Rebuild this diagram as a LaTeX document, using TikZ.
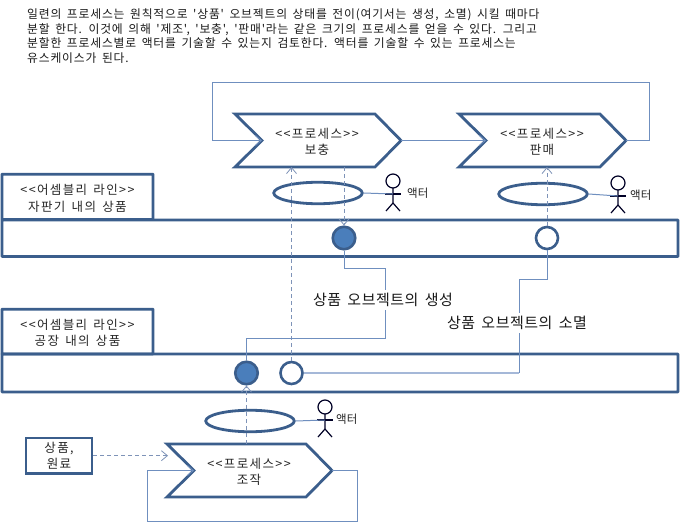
\documentclass[tikz,border=0pt]{standalone}
\usepackage{fontspec}
\setmainfont{Noto Sans CJK KR}
\newfontfamily\introfont[LetterSpace=7,WordSpace=1.6]{Noto Sans CJK KR}
\newfontfamily\labelfont[LetterSpace=11,WordSpace=1.5]{Noto Sans CJK KR}
\newfontfamily\capfont[LetterSpace=3.5,WordSpace=1.6]{Noto Sans CJK KR}
\usetikzlibrary{arrows.meta,shapes.geometric,calc}
\definecolor{heavy}{HTML}{3B5E8C}
\definecolor{thin}{HTML}{6F8FBF}
\definecolor{pale}{HTML}{A5B8D8}
\definecolor{dash}{HTML}{7E93B8}
\definecolor{solidblue}{HTML}{4A7EBB}
\tikzset{
  x=1pt,y=-1pt,
  labeltext/.style={font=\labelfont\fontsize{12.5}{16.3}\selectfont,align=center,text=black!85,inner sep=0pt},
  outline/.style={draw=heavy,line width=2.8pt,line join=miter},
  bandbox/.style={draw=heavy,line width=2.8pt,rectangle,anchor=north west,inner sep=0pt,rounded corners=0.5pt},
  usecase/.style={draw=heavy,line width=2.8pt,ellipse,inner sep=0pt,minimum width=88.5pt,minimum height=21.5pt},
  createdot/.style={circle,draw=heavy,line width=2.6pt,fill=solidblue,inner sep=0pt,minimum size=22.5pt},
  endeddot/.style={circle,draw=heavy,line width=2.6pt,fill=white,inner sep=0pt,minimum size=22pt},
  flow/.style={draw=thin,line width=1pt},
  paleflow/.style={draw=pale,line width=1.6pt},
  dep/.style={draw=dash,line width=1pt,dash pattern=on 4pt off 3pt,-{Straight Barb[length=6pt,width=10pt,line width=0.8pt]}},
  arrowflow/.style={flow,-{Straight Barb[length=6pt,width=10pt,line width=0.8pt]}},
  caption/.style={font=\capfont\fontsize{15}{17}\selectfont,fill=white,inner xsep=1pt,inner ysep=3pt,text=black!90},
  actorline/.style={draw=black!85!blue,line width=1.2pt},
  actorname/.style={font=\fontsize{11.5}{14}\selectfont,text=black!85,inner sep=0pt},
}
\newcommand{\chevronshape}[6]{%
  % #1 name, #2 left, #3 top-right x, #4 top, #5 label, #6 label x
  \coordinate (#1-nw) at (#2,#4);
  \coordinate (#1-ne) at (#3,#4);
  \coordinate (#1-tip) at ($(#3,#4)+(26,26.5)$);
  \coordinate (#1-se) at ($(#3,#4)+(0,53)$);
  \coordinate (#1-sw) at ($(#2,#4)+(0,53)$);
  \coordinate (#1-notch) at ($(#2,#4)+(27,26.5)$);
  \draw[outline] (#1-nw) -- (#1-ne) -- (#1-tip) -- (#1-se) -- (#1-sw) -- (#1-notch) -- cycle;
  \node[labeltext] (#1-label) at (#6,#4+28) {#5};
}
\newcommand{\actorfig}[3]{%
  % #1 name, #2 head x, #3 head y
  \coordinate (#1) at (#2,#3);
  \draw[actorline] (#1) circle (7pt);
  \draw[actorline] ($(#1)+(0,7)$) -- ($(#1)+(0,22)$) -- ($(#1)+(-7,30)$);
  \draw[actorline] ($(#1)+(0,22)$) -- ($(#1)+(7,30)$);
  \draw[actorline] ($(#1)+(-8,13)$) -- ($(#1)+(8,13)$);
  \coordinate (#1-arm) at ($(#1)+(0,13)$);
}
\begin{document}
\begin{tikzpicture}
\useasboundingbox[fill=white] (0,0) rectangle (681,522);

% intro
\node[anchor=north west,align=left,inner sep=0pt,font=\introfont\fontsize{11.8}{14.6}\selectfont,text=black!90] (intro) at (27,8.5)
{일련의 프로세스는 원칙적으로 '상품' 오브젝트의 상태를 전이(여기서는 생성, 소멸) 시킬 때마다\\
분할 한다. 이것에 의해 '제조', '보충', '판매'라는 같은 크기의 프로세스를 얻을 수 있다. 그리고\\
분할한 프로세스별로 액터를 기술할 수 있는지 검토한다. 액터를 기술할 수 있는 프로세스는\\
유스케이스가 된다.};

% chevrons
\chevronshape{refill}{235}{375}{114}{<<프로세스>>\\보충}{317}
\chevronshape{sell}{459}{600}{114}{<<프로세스>>\\판매}{542}
\chevronshape{make}{167}{306}{444}{<<프로세스>>\\조작}{249}

% assembly lines
\node[bandbox,minimum width=676pt,minimum height=36.5pt] (band1) at (0.6,218.6) {};
\node[bandbox,minimum width=151pt,minimum height=45.3pt] (title1) at (0.6,172.8) {};
\node[labeltext] (title1text) at ($(title1.center)+(0,1.5)$) {<<어셈블리 라인>>\\자판기 내의 상품};
\node[bandbox,minimum width=676pt,minimum height=38pt] (band2) at (0.6,352.6) {};
\node[bandbox,minimum width=151pt,minimum height=44.8pt] (title2) at (0.6,307.8) {};
\node[labeltext] (title2text) at ($(title2.center)+(0,1.5)$) {<<어셈블리 라인>>\\공장 내의 상품};

% state dots
\node[createdot] (c1) at (344,238) {};
\node[endeddot] (e1) at (547,238) {};
\node[createdot] (c2) at (246.5,373) {};
\node[endeddot] (e2) at (291.5,373) {};

% use cases
\node[usecase] (uc1) at (318,193) {};
\node[usecase] (uc2) at (543,194) {};
\node[usecase] (uc3) at (250,421) {};

% actors
\actorfig{a1}{393}{181}
\actorfig{a2}{618}{183}
\actorfig{a3}{325}{407}
\node[actorname,anchor=west] (a1n) at (407,193) {액터};
\node[actorname,anchor=west] (a2n) at (630,195) {액터};
\node[actorname,anchor=west] (a3n) at (336,419) {액터};
\draw[flow] (uc1.east) -- (a1-arm);
\draw[flow] (uc2.east) -- (a2-arm);
\draw[flow] (uc3.east) -- (a3-arm);

% process loop
\draw[arrowflow] (refill-tip) -- (sell-notch);
\coordinate (loopR) at (649,140.5);
\coordinate (loopRT) at (649,82);
\coordinate (loopLT) at (212,82);
\coordinate (loopL) at (212,140.5);
\draw[arrowflow] (sell-tip) -- (loopR) -- (loopRT) -- (loopLT) -- (loopL) -- (refill-notch);
\coordinate (m1) at (357,470.5);
\coordinate (m2) at (357,521);
\coordinate (m3) at (147,521);
\coordinate (m4) at (147,470.5);
\draw[arrowflow] (make-tip) -- (m1) -- (m2) -- (m3) -- (m4) -- (make-notch);

% materials
\node[draw=heavy,line width=2.6pt,rectangle,minimum width=66pt,minimum height=35.5pt,labeltext] (mat) at (59,455.7) {상품,\\원료};
\coordinate (matend) at (168,455.7);
\draw[dep] (mat.east) -- (matend);

% dependencies
\draw[dep] (e2.north) -- (e2.north |- refill-sw);
\draw[dep] (344,167) -- (c1.north);
\draw[dep] (e1.north) -- (e1.north |- sell-sw);
\draw[dep] (make-nw -| c2.south) -- (c2.south);

% object flows
\coordinate (f1) at (344,268);
\coordinate (f2) at (385,268);
\coordinate (f3) at (385,338);
\coordinate (f4) at (246.5,338);
\draw[flow] (c1.south) -- (f1) -- (f2) -- (f3) -- (f4) -- (c2.north);
\coordinate (g1) at (547,279.5);
\coordinate (g2) at (519,279.5);
\coordinate (g3) at (519,373);
\draw[flow] (e1.south) -- (g1) -- (g2) -- (g3);
\draw[paleflow] (g3) -- (e2.east);

% captions
\node[caption] (cap1) at (383,300) {상품 오브젝트의 생성};
\node[caption] (cap2) at (517,323) {상품 오브젝트의 소멸};
\end{tikzpicture}
\end{document}
